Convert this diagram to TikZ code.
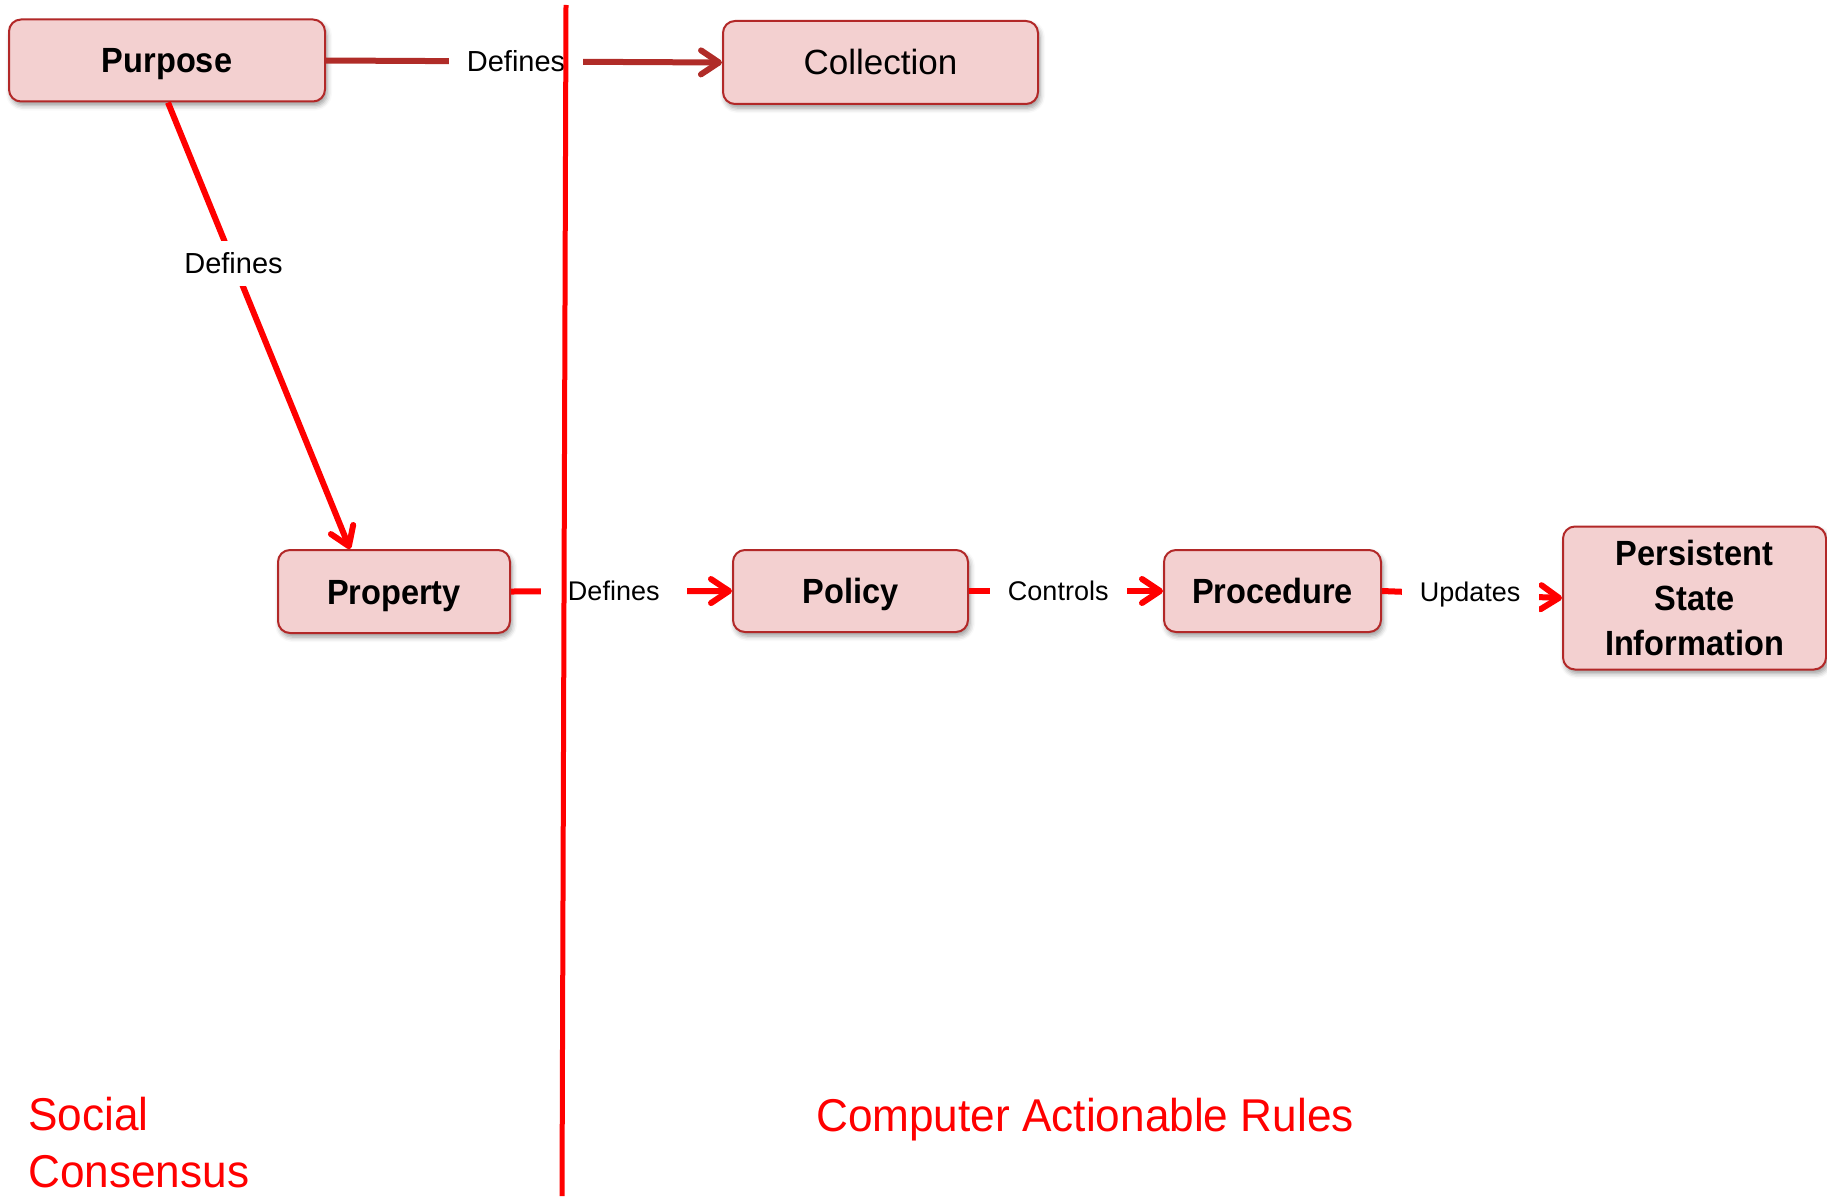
\documentclass[tikz,border=0pt]{standalone}
\usepackage{fontspec}
\setmainfont{Liberation Sans}
\newfontfamily\boxfont{Liberation Sans}[FakeStretch=0.93]
\newfontfamily\zonefont{Liberation Sans}[FakeStretch=0.96]
\usetikzlibrary{arrows.meta,shadows.blur}
\definecolor{boxfill}{RGB}{243,208,208}
\definecolor{boxedge}{RGB}{178,40,40}
\definecolor{darkarrow}{RGB}{176,44,40}
\definecolor{brightred}{RGB}{255,0,0}
\begin{document}
\begin{tikzpicture}[x=1pt,y=-1pt,
  conceptbase/.style={draw=boxedge, line width=2pt, fill=boxfill, rounded corners=12pt,
    align=center, inner sep=0pt, font=\boxfont\bfseries\fontsize{35}{45}\selectfont,
    blur shadow={shadow xshift=2pt,shadow yshift=-4pt,shadow blur radius=5pt,shadow opacity=40}},
  concept/.style={conceptbase, text height=25pt, text depth=0pt},
  link/.style={line width=6pt, draw=brightred,
    -{Straight Barb[length=18pt,width=24pt,line cap=round,line join=round]}},
  tag/.style={fill=white, inner xsep=18pt, inner ysep=12pt, text=black,
    font=\fontsize{29}{35}\selectfont},
  rowtag/.style={tag, font=\fontsize{27}{33}\selectfont},
  zone/.style={text=brightred, inner sep=0pt, font=\zonefont\fontsize{46}{57}\selectfont},
]
\useasboundingbox (0,0) rectangle (1827,1196);

% concept boxes
\node[concept, minimum width=316pt, minimum height=82pt] (purpose) at (167,60.5) {Purpose};
\node[concept, minimum width=315pt, minimum height=83pt, font=\fontsize{35}{45}\selectfont] (collection) at (880.5,62.5) {Collection};
\node[concept, minimum width=232pt, minimum height=83pt] (property) at (394,591.5) {Property};
\node[concept, minimum width=235pt, minimum height=82pt] (policy) at (850.5,591) {Policy};
\node[concept, minimum width=217pt, minimum height=82pt] (procedure) at (1272.5,591) {Procedure};
\node[conceptbase, minimum width=263pt, minimum height=143pt] (psi) at (1694.5,598) {Persistent\\State\\Information};

% relations
\draw[link, draw=darkarrow] (purpose.east) -- node[tag, pos=0.48] {Defines} (collection.west);
\draw[link] ([xshift=1pt]purpose.south) -- node[tag, pos=0.36] {Defines} ([xshift=-44pt]property.north);
\draw[link] (property.east) -- node[rowtag, pos=0.465, inner xsep=27pt] {Defines} (policy.west);
\draw[link] (policy.east) -- node[rowtag, pos=0.46] {Controls} (procedure.west);
\draw[link] (procedure.east) -- node[rowtag, pos=0.49] {Updates} (psi.west);

% divider between the two realms
\coordinate (divtop) at (566,5);
\coordinate (divbot) at (562,1196);
\draw[brightred, line width=5pt] (divtop) -- (divbot);

% realm captions
\node[zone, anchor=north west, align=left] (social) at (28,1097) {Social\\Consensus};
\node[zone, anchor=base west] (rules) at (816,1131) {Computer Actionable Rules};
\end{tikzpicture}
\end{document}
